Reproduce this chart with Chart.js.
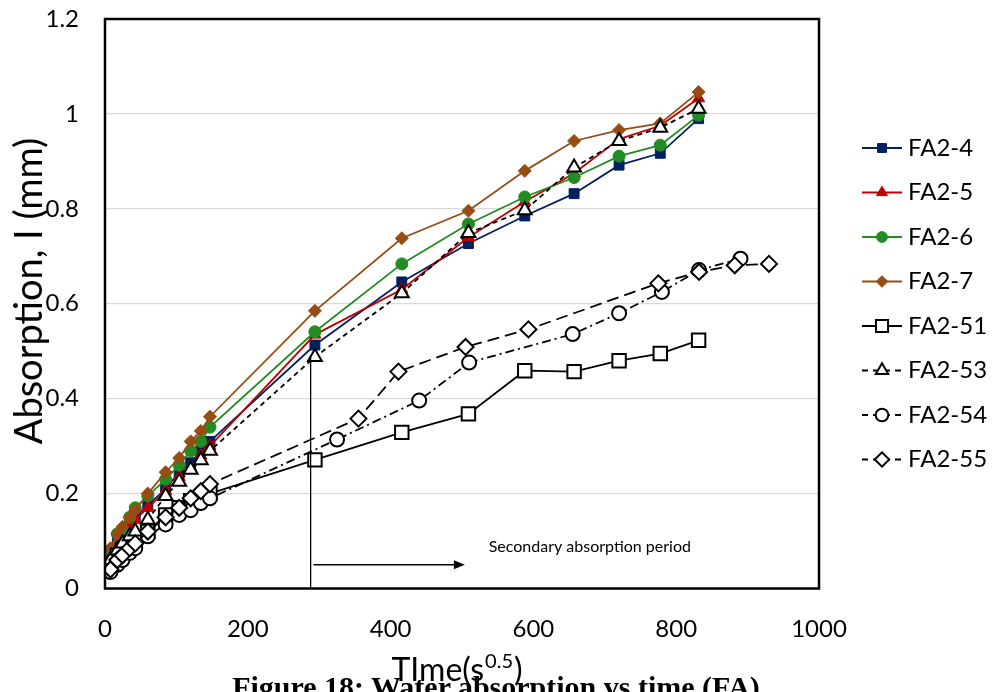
<!DOCTYPE html>
<html>
<head>
<meta charset="utf-8">
<script src="https://cdn.jsdelivr.net/npm/chart.js@4.4.0/dist/chart.umd.min.js"></script>
<style>
  html, body { margin: 0; padding: 0; background: #fff; overflow: hidden; }
  #wrap { position: relative; width: 992px; height: 692px; overflow: hidden; }
  #caption {
    position: absolute; left: 0; top: 670px; width: 992px; white-space: nowrap;
    text-align: center; font: bold 30px "Liberation Serif", serif; color: #000;
  }
</style>
</head>
<body>
<div id="wrap">
  <canvas id="absChart" width="992" height="692"></canvas>
  <div id="caption">Figure 18: Water absorption vs time (FA)</div>
</div>
<script>
// time axis values, sqrt(s)
const timeFA = [7.7, 17.3, 24.5, 34.6, 42.4, 60, 84.9, 103.9, 120, 134.2, 147, 294, 415.7, 509, 587.9, 657, 720, 777.7, 831.4];
const time54 = [7.7, 17.3, 24.5, 34.6, 42.4, 60, 84.9, 103.9, 120, 134.2, 147, 325, 440, 510, 655, 720, 780, 832, 890];
const time55 = [7.7, 17.3, 24.5, 34.6, 42.4, 60, 84.9, 103.9, 120, 134.2, 147, 355, 411, 505, 593, 775, 832, 882, 930];

// absorption, mm
const fa24 = [0.07, 0.10, 0.115, 0.135, 0.15, 0.175, 0.21, 0.245, 0.265, 0.29, 0.31, 0.513, 0.646, 0.727, 0.785, 0.832, 0.892, 0.917, 0.99];
const fa25 = [0.065, 0.095, 0.11, 0.13, 0.145, 0.17, 0.205, 0.235, 0.255, 0.28, 0.30, 0.535, 0.63, 0.74, 0.815, 0.875, 0.947, 0.975, 1.033];
const fa26 = [0.08, 0.115, 0.125, 0.15, 0.17, 0.195, 0.23, 0.26, 0.29, 0.31, 0.34, 0.541, 0.684, 0.768, 0.825, 0.866, 0.911, 0.934, 0.997];
const fa27 = [0.085, 0.115, 0.13, 0.15, 0.165, 0.2, 0.245, 0.275, 0.31, 0.332, 0.362, 0.585, 0.738, 0.796, 0.88, 0.943, 0.966, 0.98, 1.046];
const fa251 = [0.05, 0.07, 0.08, 0.09, 0.10, 0.12, 0.155, 0.17, 0.185, 0.19, 0.2, 0.271, 0.329, 0.368, 0.459, 0.457, 0.48, 0.495, 0.523];
const fa253 = [0.06, 0.08, 0.095, 0.11, 0.12, 0.145, 0.195, 0.225, 0.25, 0.27, 0.29, 0.488, 0.622, 0.749, 0.797, 0.887, 0.943, 0.971, 1.011];
const fa254 = [0.035, 0.05, 0.06, 0.075, 0.085, 0.11, 0.135, 0.155, 0.165, 0.18, 0.19, 0.314, 0.396, 0.476, 0.536, 0.58, 0.625, 0.671, 0.695];
const fa255 = [0.04, 0.06, 0.07, 0.085, 0.095, 0.12, 0.15, 0.17, 0.19, 0.205, 0.22, 0.358, 0.457, 0.509, 0.546, 0.643, 0.667, 0.681, 0.684];

const xTicks = [0, 200, 400, 600, 800, 1000];
const yTicks = [0, 0.2, 0.4, 0.6, 0.8, 1, 1.2];

// secondary absorption marker
const markerTime = 288;
const markerTop = 0.488;
const arrowFrom = 292;
const arrowTo = 504;
const arrowLevel = 0.05;
const noteText = "Secondary absorption period";
const noteTime = 679;
const noteLevel = 0.087;

const FONT = "Lato, 'Open Sans', sans-serif";

function pts(xs, ys) {
  return xs.map((x, i) => ({ x: x, y: ys[i] }));
}

const series = [
  { label: "FA2-4", xs: timeFA, ys: fa24, color: "#002060", fill: "#002060", style: "rect", r: 7, dash: [] },
  { label: "FA2-5", xs: timeFA, ys: fa25, color: "#C00000", fill: "#C00000", style: "triangle", r: 7, dash: [] },
  { label: "FA2-6", xs: timeFA, ys: fa26, color: "#228B22", fill: "#228B22", style: "circle", r: 6, dash: [] },
  { label: "FA2-7", xs: timeFA, ys: fa27, color: "#974C13", fill: "#974C13", style: "rectRot", r: 6.5, dash: [] },
  { label: "FA2-51", xs: timeFA, ys: fa251, color: "#000", fill: "#fff", style: "rect", r: 9.5, dash: [] },
  { label: "FA2-53", xs: timeFA, ys: fa253, color: "#000", fill: "#fff", style: "triangle", r: 8, dash: [5, 4] },
  { label: "FA2-54", xs: time54, ys: fa254, color: "#000", fill: "#fff", style: "circle", r: 7, dash: [9, 4, 2, 4] },
  { label: "FA2-55", xs: time55, ys: fa255, color: "#000", fill: "#fff", style: "rectRot", r: 8, dash: [12, 6] },
];

const datasets = series.map((s, i) => ({
  label: s.label,
  data: pts(s.xs, s.ys),
  showLine: true,
  borderColor: s.color,
  borderWidth: 1.8,
  borderDash: s.dash,
  pointStyle: s.style,
  pointRadius: s.r,
  pointBorderWidth: s.fill === "#fff" ? 2 : 1,
  pointBorderColor: s.color,
  pointBackgroundColor: s.fill,
  order: series.length - i, // later series on top, like excel
}));

const extras = {
  id: "extras",
  afterDraw(chart) {
    const ctx = chart.ctx;
    const a = chart.chartArea;
    const xs = chart.scales.x;
    const ys = chart.scales.y;
    ctx.save();

    // frame
    ctx.strokeStyle = "#000";
    ctx.lineWidth = 2.5;
    ctx.strokeRect(a.left, a.top, a.right - a.left, a.bottom - a.top);

    // vertical marker + arrow
    const vx = xs.getPixelForValue(markerTime);
    ctx.lineWidth = 1.3;
    ctx.beginPath();
    ctx.moveTo(vx, ys.getPixelForValue(0));
    ctx.lineTo(vx, ys.getPixelForValue(markerTop));
    ctx.stroke();

    const ay = ys.getPixelForValue(arrowLevel);
    const ax0 = xs.getPixelForValue(arrowFrom);
    const ax1 = xs.getPixelForValue(arrowTo);
    ctx.beginPath();
    ctx.moveTo(ax0, ay);
    ctx.lineTo(ax1 - 8, ay);
    ctx.stroke();
    ctx.fillStyle = "#000";
    ctx.beginPath();
    ctx.moveTo(ax1, ay);
    ctx.lineTo(ax1 - 11, ay - 4.5);
    ctx.lineTo(ax1 - 11, ay + 4.5);
    ctx.closePath();
    ctx.fill();

    ctx.font = "16px " + FONT;
    ctx.textAlign = "center";
    ctx.textBaseline = "middle";
    ctx.fillText(noteText, xs.getPixelForValue(noteTime), ys.getPixelForValue(noteLevel));

    // y title
    ctx.save();
    ctx.translate(30, 291);
    ctx.rotate(-Math.PI / 2);
    ctx.font = "38px " + FONT;
    ctx.textAlign = "center";
    ctx.textBaseline = "middle";
    ctx.fillText("Absorption, I (mm)", 0, 0);
    ctx.restore();

    // x title with superscript
    ctx.textBaseline = "alphabetic";
    ctx.textAlign = "left";
    ctx.font = "32px " + FONT;
    const main = "TIme(s";
    const wMain = ctx.measureText(main).width;
    ctx.font = "20px " + FONT;
    const wSup = ctx.measureText("0.5").width;
    ctx.font = "32px " + FONT;
    const wEnd = ctx.measureText(")").width;
    let tx = 456 - (wMain + wSup + wEnd) / 2;
    const base = 681;
    ctx.fillText(main, tx, base);
    tx += wMain;
    ctx.font = "20px " + FONT;
    ctx.fillText("0.5", tx + 1, base - 13);
    tx += wSup + 2;
    ctx.font = "32px " + FONT;
    ctx.fillText(")", tx, base);

    // legend
    ctx.font = "24px " + FONT;
    ctx.textBaseline = "middle";
    series.forEach((s, i) => {
      const ly = 148 + i * 44.5;
      ctx.strokeStyle = s.color;
      ctx.lineWidth = 2;
      ctx.setLineDash(s.dash.length ? [6, 5] : []);
      ctx.beginPath();
      ctx.moveTo(862, ly);
      ctx.lineTo(902, ly);
      ctx.stroke();
      ctx.setLineDash([]);
      ctx.fillStyle = s.fill;
      ctx.strokeStyle = s.color;
      ctx.lineWidth = s.fill === "#fff" ? 2 : 1;
      Chart.helpers.drawPoint(ctx, { pointStyle: s.style, radius: s.r * 0.9, rotation: 0, borderWidth: ctx.lineWidth }, 882, ly);
      ctx.fillStyle = "#000";
      ctx.fillText(s.label, 908, ly);
    });

    ctx.restore();
  },
};

const absChart = new Chart(document.getElementById("absChart").getContext("2d"), {
  type: "scatter",
  data: { datasets: datasets },
  options: {
    responsive: false,
    animation: false,
    layout: { padding: { top: 19, right: 173, left: 0, bottom: 0 } },
    plugins: {
      legend: { display: false },
      tooltip: { enabled: false },
    },
    scales: {
      x: {
        type: "linear",
        min: 0,
        max: 1000,
        afterFit: (s) => { s.height = 103.5; },
        afterBuildTicks: (s) => { s.ticks = xTicks.map((v) => ({ value: v })); },
        grid: { display: false, drawTicks: false },
        border: { display: false },
        ticks: {
          color: "#000",
          padding: 26,
          font: { size: 24, family: FONT },
          callback: (v) => String(v),
        },
      },
      y: {
        type: "linear",
        min: 0,
        max: 1.2,
        afterFit: (s) => {
          s.width = 105;
          s.paddingTop = 0;
          s.paddingBottom = 0;
        },
        afterBuildTicks: (s) => { s.ticks = yTicks.map((v) => ({ value: v })); },
        grid: { color: "#D9D9D9", lineWidth: 1.2, drawTicks: false },
        border: { display: false },
        ticks: {
          color: "#000",
          padding: 26,
          font: { size: 24, family: FONT },
          callback: (v) => String(Math.round(v * 10) / 10),
        },
      },
    },
  },
  plugins: [extras],
});
</script>
</body>
</html>
